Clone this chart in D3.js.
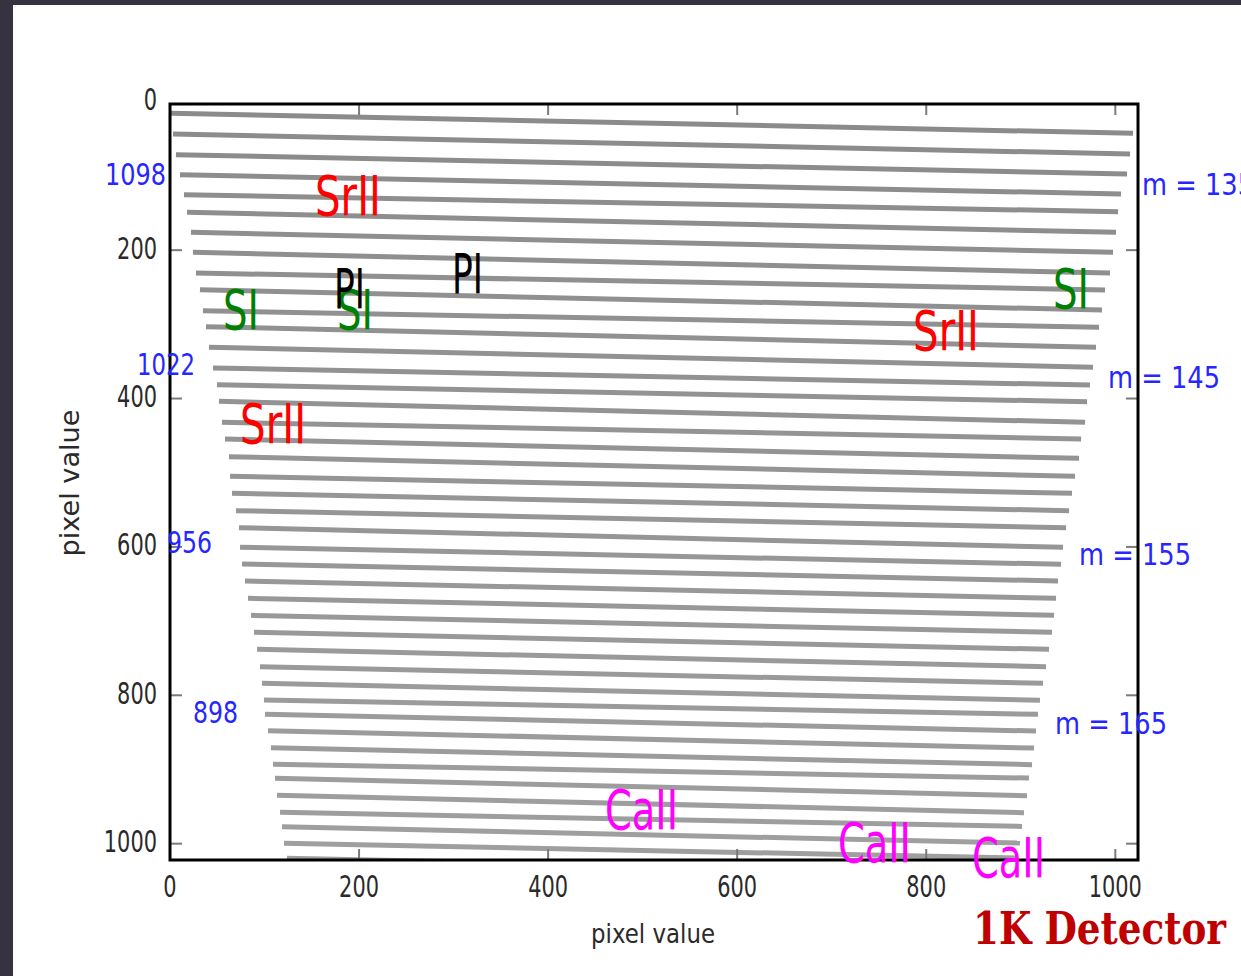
<!DOCTYPE html>
<html>
<head>
<meta charset="UTF-8" />
<style>
  body { margin: 0; background: #36323f; overflow: hidden; }
  svg { display: block; }
</style>
</head>
<body>
<svg id="chart"></svg>
<script src="https://d3js.org/d3.v7.min.js"></script>
<script>
// echelle orders (detector pixel units)
const orderStartX = [1.1, 3.2, 6.3, 10.6, 14.8, 18.0, 22.2, 24.3, 27.5, 31.7, 34.9, 38.1, 41.3, 45.5, 49.7,
  51.8, 55.0, 58.2, 62.4, 63.5, 65.6, 69.8, 73.0, 74.1, 76.2, 79.3, 82.5, 85.7, 88.9, 92.1, 95.2, 97.3,
  99.4, 100.5, 103.7, 106.8, 109.0, 111.1, 113.2, 116.4, 118.5, 120.6, 123.7];
const orderStartY = [15.5, 43.4, 71.3, 98.3, 125.3, 149.0, 175.9, 202.9, 230.8, 253.3, 281.6, 303.2, 330.9,
  358.8, 381.4, 403.7, 432.0, 454.5, 478.4, 504.8, 527.7, 551.2, 574.1, 600.5, 623.0, 645.9, 669.3, 692.2,
  715.1, 738.0, 761.5, 783.8, 806.3, 825.6, 847.7, 870.6, 893.0, 911.9, 934.8, 957.7, 977.1, 999.5, 1019.7];
const orderEndX = [1018.7, 1015.6, 1012.4, 1006.0, 1002.9, 1000.7, 997.6, 994.4, 989.1, 985.9, 982.8, 979.6,
  976.4, 973.2, 970.1, 968.0, 963.8, 961.6, 957.4, 954.2, 951.1, 947.9, 944.7, 942.6, 939.4, 937.3, 935.2,
  933.0, 929.9, 926.7, 923.5, 920.3, 918.2, 916.1, 914.0, 911.9, 908.7, 906.6, 903.4, 901.3, 899.2, 897.1, 893.9];
const orderEndY = [42.5, 70.4, 97.4, 124.3, 148.2, 175.9, 202.9, 230.8, 253.7, 280.7, 304.0, 330.9, 357.9,
  381.8, 404.3, 432.0, 454.5, 480.6, 504.8, 527.7, 551.2, 574.1, 600.5, 623.4, 645.9, 669.3, 692.2, 715.1,
  738.0, 761.5, 783.8, 806.8, 825.6, 848.2, 871.1, 893.5, 911.6, 935.3, 958.2, 976.7, 999.2, 1019.3, 1039.5];

// line identifications
const lineNames = ["SrII", "SrII", "SrII", "SI", "SI", "SI", "PI", "PI", "CaII", "CaII", "CaII"];
const lineX = [153.4, 74.1, 786.0, 56.1, 176.7, 934.1, 173.5, 298.3, 460.2, 706.6, 848.4];
const lineY = [152.6, 459.9, 334.6, 306.3, 306.3, 278.0, 278.0, 257.7, 980.2, 1024.7, 1044.9];

// order labels: wavelength on the left, order number m on the right
const waveLabels = ["1098", "1022", "956", "898"];
const waveX = [-68.8, -34.9, -3.2, 24.3];
const waveY = [112.2, 368.3, 608.2, 837.3];
const orderLabels = ["m = 135", "m = 145", "m = 155", "m = 165"];
const orderLabelX = [1028.3, 992.3, 961.6, 936.2];
const orderLabelY = [125.7, 385.8, 624.4, 852.2];

const xTicks = [0, 200, 400, 600, 800, 1000];
const yTicks = [0, 200, 400, 600, 800, 1000];

let width = 1241,
  height = 976;

let svg = d3.select("#chart").attr("width", width).attr("height", height);

// white slide panel
svg.append("rect").attr("x", 13).attr("y", 5).attr("width", width - 13).attr("height", height - 5).attr("fill", "#fff");

let x = d3.scaleLinear().domain([0, 1024]).range([170, 1138]);
let y = d3.scaleLinear().domain([3, 1022]).range([104, 860]);
let grey = d3.scaleLinear().domain([0, 1000]).range(["#8b8b8b", "#9f9f9f"]);

svg.append("clipPath").attr("id", "plotclip")
  .append("rect").attr("x", 170).attr("y", 104).attr("width", 968).attr("height", 756);

let orders = orderStartX.map((d, i) => [[d, orderStartY[i]], [orderEndX[i], orderEndY[i]]]);
let line = d3.line().x((d) => x(d[0])).y((d) => y(d[1]));

svg.append("g").attr("clip-path", "url(#plotclip)")
  .selectAll("path").data(orders).enter().append("path")
  .attr("d", line)
  .attr("fill", "none")
  .attr("stroke", (d) => grey(d[0][1]))
  .attr("stroke-width", 5);

// ticks, pointing inwards on every side
let ticks = svg.append("g").attr("stroke", "#7a7a7a").attr("stroke-width", 2);
xTicks.filter((v) => v > 0).forEach((v) => {
  ticks.append("line").attr("x1", x(v)).attr("x2", x(v)).attr("y1", 105).attr("y2", 115);
  ticks.append("line").attr("x1", x(v)).attr("x2", x(v)).attr("y1", 849).attr("y2", 859);
});
yTicks.filter((v) => v > 3).forEach((v) => {
  ticks.append("line").attr("y1", y(v)).attr("y2", y(v)).attr("x1", 171).attr("x2", 182);
  ticks.append("line").attr("y1", y(v)).attr("y2", y(v)).attr("x1", 1126).attr("x2", 1137);
});

svg.append("rect").attr("x", 170).attr("y", 104).attr("width", 968).attr("height", 756)
  .attr("fill", "none").attr("stroke", "#000").attr("stroke-width", 3);

function label(g, txt, px, py, size, len, color, anchor) {
  return g.append("text")
    .attr("x", px).attr("y", py)
    .attr("font-size", size)
    .attr("fill", color)
    .attr("text-anchor", anchor || "start")
    .attr("textLength", len)
    .attr("lengthAdjust", "spacingAndGlyphs")
    .text(txt);
}

let texts = svg.append("g").attr("font-family", "'DejaVu Sans', sans-serif");

xTicks.forEach((v) => label(texts, String(v), x(v), 897, 30, 13.3 * String(v).length, "#2a2a2a", "middle"));
yTicks.forEach((v) => label(texts, String(v), 157, y(v) + 8.5, 30, 13.3 * String(v).length, "#2a2a2a", "end"));

label(texts, "pixel value", 653, 943, 27, 124, "#2a2a2a", "middle");
label(texts, "pixel value", 0, 0, 27, 147, "#2a2a2a", "middle")
  .attr("transform", "translate(79,483) rotate(-90)");

let lineStyle = {
  SrII: { color: "#ff0000", w: 66 },
  SI: { color: "#008000", w: 36 },
  PI: { color: "#000000", w: 31 },
  CaII: { color: "#ff00ff", w: 73 },
};
lineNames.forEach((n, i) => label(texts, n, x(lineX[i]), y(lineY[i]), 55, lineStyle[n].w, lineStyle[n].color));

let waveW = { "1098": 61, "1022": 58, "956": 45, "898": 45 };
waveLabels.forEach((t, i) => label(texts, t, x(waveX[i]), y(waveY[i]), 31, waveW[t], "#2626ff"));
orderLabels.forEach((t, i) => label(texts, t, x(orderLabelX[i]), y(orderLabelY[i]), 31, 112, "#2626ff"));

label(svg, "1K Detector", 973, 944, 44, 253, "#c00000")
  .attr("font-family", "'DejaVu Serif', serif")
  .attr("font-weight", "bold");
</script>
</body>
</html>
